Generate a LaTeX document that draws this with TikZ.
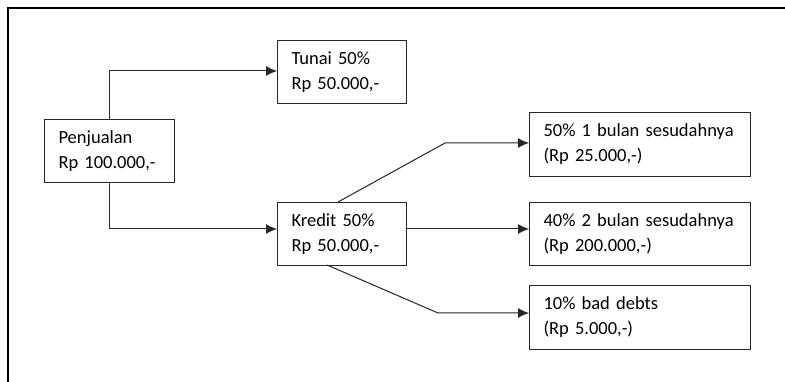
\documentclass[tikz,border=0pt]{standalone}
\usepackage{fontspec}
\setmainfont{Carlito}
\usetikzlibrary{arrows.meta}
\begin{document}
\begin{tikzpicture}[x=1pt,y=-1pt,
  box/.style={draw=black!85, line width=1pt, inner xsep=14pt, inner ysep=0pt,
    align=left, anchor=north west, text=black,
    font=\fontsize{18.5}{25}\selectfont},
  conn/.style={draw=black!85, line width=1pt},
  arr/.style={conn, -{Latex[length=11pt,width=10pt]}},
  frame/.style={draw=black, line width=2.2pt}]
\useasboundingbox (0,0) rectangle (785,382);
% frame
\coordinate (f0) at (8,382);
\coordinate (f1) at (8,8);
\coordinate (f2) at (785,8);
\draw[frame] (f0) -- (f1) -- (f2);
% boxes
\node[box, minimum width=130pt, minimum height=63pt, text width=102pt] (pen) at (44,119) {Penjualan\\Rp 100.000,-};
\node[box, minimum width=129pt, minimum height=63pt, text width=101pt] (tun) at (277,40) {Tunai 50\%\\Rp 50.000,-};
\node[box, minimum width=129pt, minimum height=63pt, text width=101pt] (kre) at (277,202) {Kredit 50\%\\Rp 50.000,-};
\node[box, minimum width=221pt, minimum height=64pt, text width=193pt] (b1) at (529,112) {50\% 1 bulan sesudahnya\\(Rp 25.000,-)};
\node[box, minimum width=221pt, minimum height=63pt, text width=193pt] (b2) at (529,202) {40\% 2 bulan sesudahnya\\(Rp 200.000,-)};
\node[box, minimum width=221pt, minimum height=64pt, text width=193pt] (b3) at (529,285) {10\% bad debts\\(Rp 5.000,-)};
% connectors
\coordinate (ptop) at (109,71);
\coordinate (pbot) at (109,229);
\draw[arr] (pen.north -| ptop) -- (ptop) -- (tun.west |- ptop);
\draw[arr] (pen.south -| pbot) -- (pbot) -- (kre.west |- pbot);
\coordinate (k1) at (338,202);
\coordinate (c1) at (445,143);
\draw[arr] (k1) -- (c1) -- (b1.west |- c1);
\coordinate (k2) at (406,229);
\draw[arr] (k2) -- (b2.west |- k2);
\coordinate (k3) at (327,265);
\coordinate (c3) at (438,313);
\draw[arr] (k3) -- (c3) -- (b3.west |- c3);
\end{tikzpicture}
\end{document}
